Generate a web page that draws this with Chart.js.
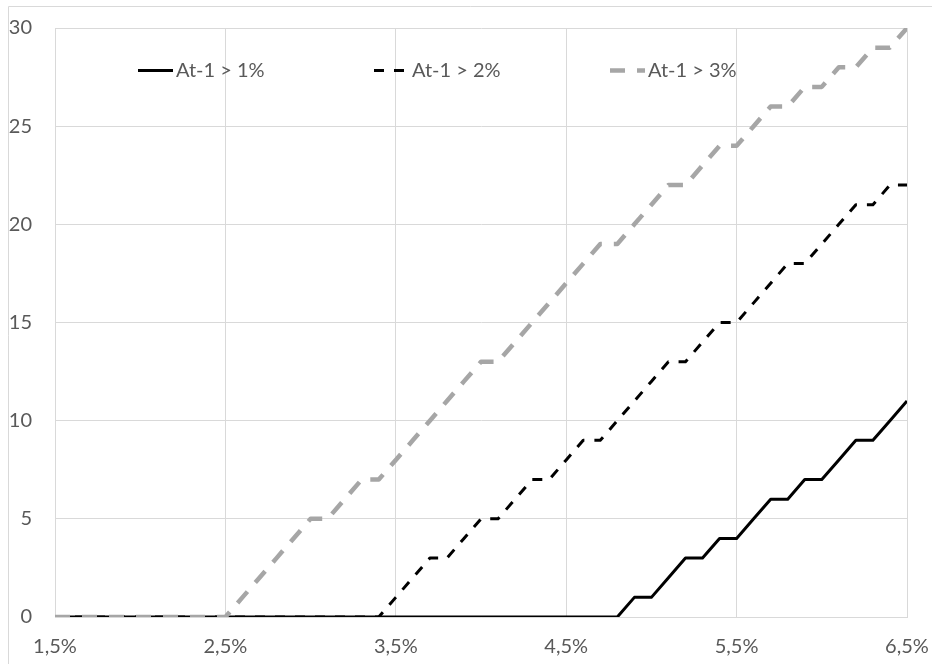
<!DOCTYPE html>
<html>
<head>
<meta charset="utf-8">
<script src="https://cdn.jsdelivr.net/npm/chart.js@4.4.1/dist/chart.umd.min.js"></script>
<style>
  html, body { margin: 0; padding: 0; background: #ffffff; }
  #wrap { position: relative; width: 932px; height: 664px; }
</style>
</head>
<body>
<div id="wrap"><canvas id="chart" width="932" height="664"></canvas></div>
<script>
// Rates on the horizontal axis (percent)
const rates = [
  1.5, 1.6, 1.7, 1.8, 1.9, 2.0, 2.1, 2.2, 2.3, 2.4,
  2.5, 2.6, 2.7, 2.8, 2.9, 3.0, 3.1, 3.2, 3.3, 3.4,
  3.5, 3.6, 3.7, 3.8, 3.9, 4.0, 4.1, 4.2, 4.3, 4.4,
  4.5, 4.6, 4.7, 4.8, 4.9, 5.0, 5.1, 5.2, 5.3, 5.4,
  5.5, 5.6, 5.7, 5.8, 5.9, 6.0, 6.1, 6.2, 6.3, 6.4,
  6.5
];

const seriesNames = ['At-1 > 1%', 'At-1 > 2%', 'At-1 > 3%'];

const countsAbove1 = [
  0, 0, 0, 0, 0, 0, 0, 0, 0, 0,
  0, 0, 0, 0, 0, 0, 0, 0, 0, 0,
  0, 0, 0, 0, 0, 0, 0, 0, 0, 0,
  0, 0, 0, 0, 1, 1, 2, 3, 3, 4,
  4, 5, 6, 6, 7, 7, 8, 9, 9, 10,
  11
];

const countsAbove2 = [
  0, 0, 0, 0, 0, 0, 0, 0, 0, 0,
  0, 0, 0, 0, 0, 0, 0, 0, 0, 0,
  1, 2, 3, 3, 4, 5, 5, 6, 7, 7,
  8, 9, 9, 10, 11, 12, 13, 13, 14, 15,
  15, 16, 17, 18, 18, 19, 20, 21, 21, 22,
  22
];

const countsAbove3 = [
  0, 0, 0, 0, 0, 0, 0, 0, 0, 0,
  0, 1, 2, 3, 4, 5, 5, 6, 7, 7,
  8, 9, 10, 11, 12, 13, 13, 14, 15, 16,
  17, 18, 19, 19, 20, 21, 22, 22, 23, 24,
  24, 25, 26, 26, 27, 27, 28, 28, 29, 29,
  30
];

const xTickValues = [1.5, 2.5, 3.5, 4.5, 5.5, 6.5];
const yTickValues = [0, 5, 10, 15, 20, 25, 30];

const FONT = 'Lato, "Liberation Sans", sans-serif';
const TEXT_COLOR = '#595959';
const GRID_COLOR = '#d9d9d9';

function toPoints(values) {
  return rates.map((r, i) => ({ x: r, y: values[i] }));
}

function formatRate(v) {
  return v.toFixed(1).replace('.', ',') + '%';
}

// Light frame around the whole chart
const framePlugin = {
  id: 'frame',
  beforeDraw(chart) {
    const ctx = chart.ctx;
    ctx.save();
    ctx.strokeStyle = GRID_COLOR;
    ctx.lineWidth = 1;
    ctx.beginPath();
    ctx.moveTo(8.5, chart.height + 2);
    ctx.lineTo(8.5, 6.5);
    ctx.lineTo(chart.width + 2, 6.5);
    ctx.stroke();
    ctx.restore();
  }
};

// Legend drawn inside the plot area, one row
const innerLegend = {
  id: 'innerLegend',
  afterDraw(chart) {
    const ctx = chart.ctx;
    const startX = 138, spacing = 236, sampleLen = 35, y = 70.5;
    ctx.save();
    chart.data.datasets.forEach((ds, i) => {
      const x0 = startX + i * spacing;
      ctx.strokeStyle = ds.borderColor;
      ctx.lineWidth = ds.borderWidth;
      ctx.lineCap = 'butt';
      ctx.setLineDash(ds.borderDash || []);
      ctx.beginPath();
      ctx.moveTo(x0, y);
      ctx.lineTo(x0 + sampleLen, y);
      ctx.stroke();
      ctx.setLineDash([]);
      ctx.fillStyle = TEXT_COLOR;
      ctx.font = '20px ' + FONT;
      ctx.textBaseline = 'middle';
      ctx.textAlign = 'left';
      ctx.fillText(ds.label, x0 + sampleLen + 3, y);
    });
    ctx.restore();
  }
};

new Chart(document.getElementById('chart'), {
  type: 'line',
  data: {
    datasets: [
      {
        label: seriesNames[0],
        data: toPoints(countsAbove1),
        borderColor: '#000000',
        borderWidth: 3,
        borderJoinStyle: 'round',
        pointRadius: 0,
        order: 3
      },
      {
        label: seriesNames[1],
        data: toPoints(countsAbove2),
        borderColor: '#000000',
        borderWidth: 3,
        borderDash: [10, 10],
        borderJoinStyle: 'round',
        pointRadius: 0,
        order: 2
      },
      {
        label: seriesNames[2],
        data: toPoints(countsAbove3),
        borderColor: '#a6a6a6',
        borderWidth: 4.5,
        borderDash: [15, 12],
        borderJoinStyle: 'round',
        pointRadius: 0,
        order: 1
      }
    ]
  },
  options: {
    responsive: false,
    animation: false,
    events: [],
    layout: { padding: { left: 0, right: 25, top: 28, bottom: 0 } },
    plugins: {
      legend: { display: false },
      tooltip: { enabled: false }
    },
    scales: {
      x: {
        type: 'linear',
        min: 1.5,
        max: 6.5,
        afterBuildTicks(scale) {
          scale.ticks = xTickValues.map(v => ({ value: v }));
        },
        afterFit(scale) { scale.height = 47; },
        grid: {
          color: GRID_COLOR, lineWidth: 1,
          drawTicks: true, tickLength: 18, tickColor: 'rgba(0,0,0,0)'
        },
        border: { color: GRID_COLOR, width: 1 },
        ticks: {
          padding: 0,
          color: TEXT_COLOR,
          font: { family: FONT, size: 20 },
          maxRotation: 0,
          autoSkip: false,
          callback: (v) => formatRate(v)
        }
      },
      y: {
        min: 0,
        max: 30,
        afterBuildTicks(scale) {
          scale.ticks = yTickValues.map(v => ({ value: v }));
        },
        afterFit(scale) { scale.width = 55; },
        grid: {
          color: GRID_COLOR, lineWidth: 1,
          drawTicks: true, tickLength: 23, tickColor: 'rgba(0,0,0,0)'
        },
        border: { color: GRID_COLOR, width: 1 },
        ticks: {
          padding: 0,
          color: TEXT_COLOR,
          font: { family: FONT, size: 20 },
          callback: (v) => String(v)
        }
      }
    }
  },
  plugins: [framePlugin, innerLegend]
});
</script>
</body>
</html>
